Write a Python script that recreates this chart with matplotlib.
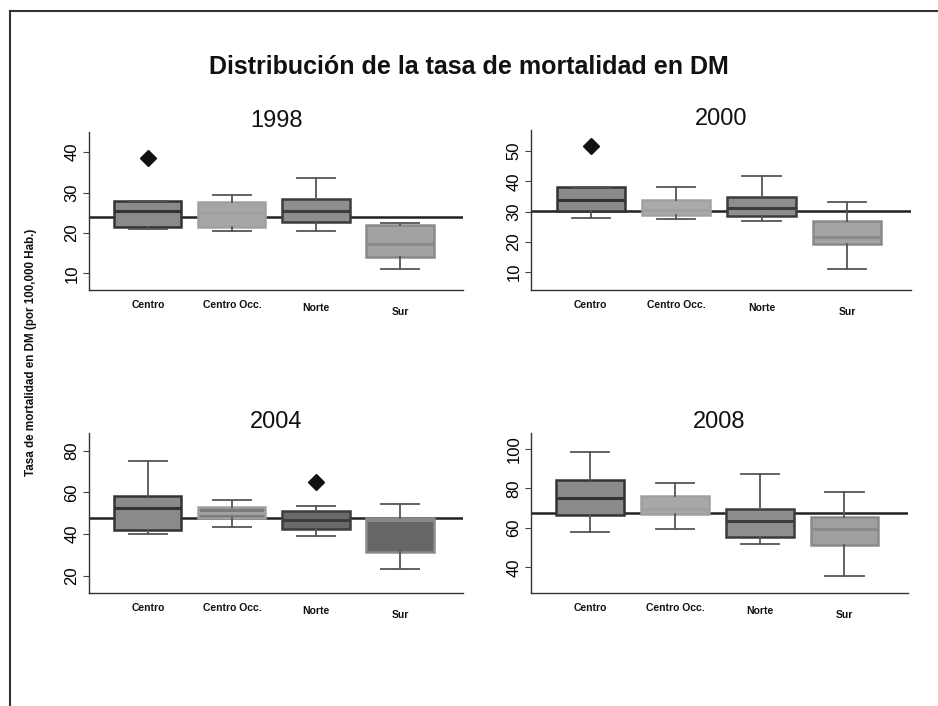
import matplotlib.pyplot as plt
from matplotlib.lines import Line2D

regions = ['Centro', 'Centro Occ.', 'Norte', 'Sur']
years = ['1998', '2000', '2004', '2008']

# per year, per region: [whislo, q1, med, q3, whishi]
stats_1998 = [[21.0, 21.5, 25.5, 28.0, 28.0],
              [20.4, 21.6, 25.0, 27.8, 29.3],
              [20.4, 22.8, 25.5, 28.3, 33.5],
              [11.2, 14.1, 17.3, 22.0, 22.6]]
stats_2000 = [[28.0, 30.3, 33.7, 38.1, 38.1],
              [27.4, 28.9, 30.5, 33.7, 38.1],
              [26.9, 28.6, 31.1, 34.8, 41.7],
              [10.9, 19.4, 21.7, 26.7, 33.0]]
stats_2004 = [[40.2, 42.1, 52.5, 58.1, 75.2],
              [43.2, 47.7, 50.0, 53.0, 56.2],
              [38.9, 42.6, 46.6, 51.2, 53.3],
              [23.2, 31.4, 46.8, 47.5, 54.6]]
stats_2008 = [[57.7, 66.4, 75.2, 84.1, 98.6],
              [59.6, 67.2, 69.6, 76.1, 82.9],
              [51.7, 55.1, 63.7, 69.3, 87.1],
              [35.7, 51.4, 59.4, 65.4, 78.3]]
all_stats = [stats_1998, stats_2000, stats_2004, stats_2008]

# outliers per region
outliers_1998 = [[38.5], [], [], []]
outliers_2000 = [[51.8], [], [], []]
outliers_2004 = [[], [], [64.8], []]
outliers_2008 = [[], [], [], []]
all_outliers = [outliers_1998, outliers_2000, outliers_2004, outliers_2008]

# overall reference line per year
overall = [24.0, 30.2, 47.5, 67.6]

yticks = [[10, 20, 30, 40], [10, 20, 30, 40, 50], [20, 40, 60, 80], [40, 60, 80, 100]]
ylims = [(5.9, 45), (4, 57), (11.7, 88.5), (27, 108)]

edge_cols = ['#333333', '#a0a0a0', '#3c3c3c', '#8a8a8a']
fill_cols = [['#8a8a8a', '#a6a6a6', '#8e8e8e', '#a2a2a2'],
             ['#8a8a8a', '#aaaaaa', '#8e8e8e', '#a4a4a4'],
             ['#8a8a8a', '#7a7a7a', '#6a6a6a', '#666666'],
             ['#8a8a8a', '#a8a8a8', '#8e8e8e', '#a0a0a0']]

# axes boxes in pixels: left, right, top, bottom
W, H = 938, 706
boxes_px = [(89, 463, 132, 290), (531, 911, 130, 290),
            (89, 463, 433, 593), (531, 908, 433, 593)]
label_drop = [0, 0, 2, 5]

plt.rcParams['font.family'] = ['Liberation Sans', 'DejaVu Sans']
fig = plt.figure(figsize=(W / 100, H / 100), dpi=100)

for k in range(4):
    l, r, t, b = boxes_px[k]
    ax = fig.add_axes([l / W, 1 - b / H, (r - l) / W, (b - t) / H])
    bxp_stats = []
    for i, reg in enumerate(regions):
        wl, q1, med, q3, wh = all_stats[k][i]
        bxp_stats.append(dict(label=reg, whislo=wl, q1=q1, med=med, q3=q3,
                              whishi=wh, fliers=all_outliers[k][i]))
    ax.axhline(overall[k], color='#222222', lw=1.8, zorder=1)
    bp = ax.bxp(bxp_stats, positions=[1, 2, 3, 4], widths=0.8, patch_artist=True,
                capwidths=0.45, showfliers=True, manage_ticks=False)
    for i in range(4):
        bp['boxes'][i].set(facecolor=fill_cols[k][i], edgecolor=edge_cols[i], lw=1.8, zorder=2)
        bp['medians'][i].set(color=edge_cols[i], lw=2.2, zorder=3)
        for j in (2 * i, 2 * i + 1):
            bp['whiskers'][j].set(color='#555555', lw=1.3)
            bp['caps'][j].set(color='#555555', lw=1.3)
        bp['fliers'][i].set(marker='D', markerfacecolor='#111111',
                            markeredgecolor='#111111', markersize=8)
    ax.set_xlim(0.3, 4.75)
    ax.set_ylim(*ylims[k])
    ax.set_yticks(yticks[k])
    ax.set_yticklabels([str(v) for v in yticks[k]], rotation=90, va='center', fontsize=12)
    ax.tick_params(axis='y', length=4, width=0.8, color='#444444', pad=3)
    ax.set_xticks([])
    for s in ['top', 'right']:
        ax.spines[s].set_visible(False)
    for s in ['left', 'bottom']:
        ax.spines[s].set_color('#333333')
        ax.spines[s].set_linewidth(1.0)
    for i, reg in enumerate(regions):
        ax.annotate(reg, xy=(i + 1, 0), xycoords=('data', 'axes fraction'),
                    xytext=(0, -11 - label_drop[i]), textcoords='offset points',
                    ha='center', va='center', fontsize=7.5, fontweight='bold',
                    color='#111111')
    ax.text(0.5, 1.0, years[k], transform=ax.transAxes, ha='center', va='bottom',
            fontsize=17, color='#111111')

fig.text(0.5, 1 - 67 / H, 'Distribución de la tasa de mortalidad en DM',
         ha='center', va='center', fontsize=18, fontweight='bold', color='#111111')
fig.text(31 / W, 1 - 352 / H, 'Tasa de mortalidad en DM (por 100,000 Hab.)',
         ha='center', va='center', rotation=90, fontsize=8.4, fontweight='bold',
         color='#111111')

# outer frame (left and top edges only)
fig.add_artist(Line2D([10 / W, 10 / W], [0, 1 - 11 / H], color='#333333', lw=1.5))
fig.add_artist(Line2D([10 / W, 1], [1 - 11 / H, 1 - 11 / H], color='#333333', lw=1.5))

fig.savefig('out.png', dpi=100, facecolor='white')
